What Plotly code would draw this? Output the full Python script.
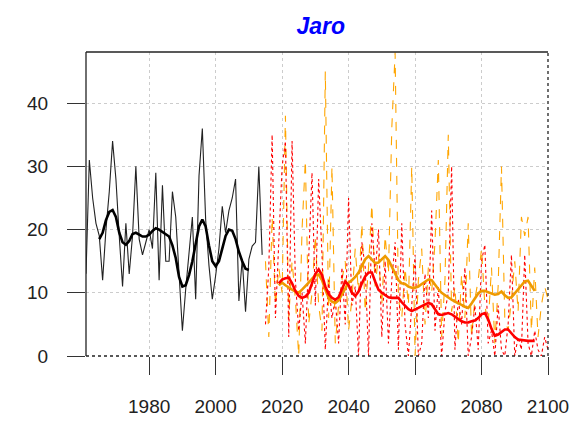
import plotly.graph_objects as go

# observed 1961-2014
obs_years = list(range(1961, 2015))
obs_values = [13, 31, 25, 21, 19, 12, 20, 26, 34, 28,
              19, 11, 21, 13, 19, 30, 18.5, 16, 18, 20,
              17, 29, 12, 27, 15, 15, 26, 22, 13, 4,
              10.6, 16.4, 22, 9, 28.5, 36, 21.6, 14.3, 9, 12.7,
              17, 23.7, 19.5, 23, 25, 28, 8.7, 15.3, 7, 15.3,
              17.4, 18, 30, 16]

obs_smooth_years = list(range(1965, 2011))
obs_smooth = [18.5, 19.5, 21.5, 22.8, 23.1, 22, 19.5, 18, 17.6, 18.2,
              19.3, 19.5, 19.2, 18.9, 18.9, 19.2, 19.8, 20.2, 20, 19.6,
              19.2, 18.9, 17.5, 15.5, 12.5, 11, 11.2, 12.8, 15, 18,
              20.5, 21.6, 20.5, 17.5, 15, 14.2, 15, 17, 19, 20,
              19.8, 18.5, 16.5, 15, 13.8, 13.6]

# scenarios 2015-2100
fut_years = list(range(2015, 2101))
red_values = [5, 14, 35, 6, 18, 30, 34, 3, 34, 12,
              4, 10, 2, 17, 29, 8, 28, 16, 1, 12,
              6, 9, 2, 14, 5, 25, 8, 11, 0, 18,
              14, 0, 21, 13, 20, 3, 15, 2, 12, 18,
              1, 21, 5, 0, 9, 16, 0, 2, 13, 6,
              23, 4, 11, 0, 7, 10, 30, 1, 9, 5,
              14, 0, 3, 8, 1, 15, 17.6, 2, 4, 0,
              8, 1, 0, 5, 16, 0, 3, 1, 16, 2,
              0, 4, 1, 0, 3, 1]
orange_values = [15, 3, 22, 8, 14, 10, 38, 6, 15, 9,
                 0, 20, 31, 5, 10, 19, 8, 4, 45, 6,
                 30, 2, 8, 12, 15, 4, 9, 17, 10, 21,
                 7, 14, 24, 11, 16, 8, 19, 13, 36, 48,
                 9, 6, 14, 8, 30, 0, 12, 17, 5, 14,
                 10, 18, 31, 3, 12, 35, 7, 11, 2, 13,
                 6, 21, 3, 9, 12, 17, 8, 5, 14, 2,
                 11, 30, 6, 4, 9, 15, 7, 22, 19, 22,
                 4, 14, 3, 8, 11, 9]

fut_smooth_years = list(range(2019, 2097))
red_smooth = [11.5, 12.1, 12.3, 12.4, 11.5, 10.3, 9.5, 9.2, 9.4, 10,
              11.5, 13, 13.7, 12.8, 11, 9.8, 9.2, 8.9, 9.3, 10.5,
              11.8, 11.2, 10, 9.5, 10.2, 11.5, 12.6, 13.2, 13.2, 11.8,
              10.5, 10, 9.6, 9.3, 9.2, 9.2, 9.2, 8.5, 7.9, 7.4,
              7.1, 7.3, 7.6, 7.9, 8.2, 8.4, 8.2, 7.4, 6.6, 6.5,
              6.6, 6.8, 6.6, 6.2, 5.8, 5.5, 5.3, 5.3, 5.5, 5.6,
              6, 6.6, 6.8, 5.8, 4.3, 3.2, 3.4, 3.8, 4.2, 4.2,
              3.6, 3, 2.6, 2.5, 2.4, 2.4, 2.4, 2.4]
orange_smooth = [11.2, 11.6, 11.2, 10.8, 10.5, 10.2, 10, 10.5, 11, 11.6,
                 12.2, 12.8, 12.9, 12, 10.5, 9.2, 8.6, 8.4, 8.8, 9.8,
                 10.8, 11.6, 12, 12.5, 13.2, 14.3, 15.3, 15.8, 15.3, 14.7,
                 14.8, 15.3, 15.8, 15.2, 14.2, 13.2, 12, 11.5, 11.4, 11,
                 10.8, 10.8, 11, 11.4, 11.8, 12.1, 12, 11.2, 10.6, 10,
                 9.6, 9.2, 8.9, 8.6, 8.4, 8.1, 7.8, 7.6, 8.3, 9.2,
                 9.9, 10.3, 10.3, 10.1, 9.9, 9.7, 9.8, 10.2, 9.6, 9.2,
                 9.3, 9.9, 10.6, 11.2, 11.8, 11.9, 11, 10.3]

x_ticks = [1980, 2000, 2020, 2040, 2060, 2080, 2100]
y_ticks = [0, 10, 20, 30, 40]

fig = go.Figure()
fig.add_trace(go.Scatter(x=obs_years, y=obs_values, mode="lines",
                         line=dict(color="#222222", width=1.1)))
fig.add_trace(go.Scatter(x=obs_smooth_years, y=obs_smooth, mode="lines",
                         line=dict(color="black", width=2.6)))
fig.add_trace(go.Scatter(x=fut_years, y=orange_values, mode="lines",
                         line=dict(color="#FFA500", width=1.1, dash="dash")))
fig.add_trace(go.Scatter(x=fut_years, y=red_values, mode="lines",
                         line=dict(color="#FF0000", width=1.1, dash="dot")))
fig.add_trace(go.Scatter(x=fut_smooth_years, y=orange_smooth, mode="lines",
                         line=dict(color="#EE9A00", width=2.6)))
fig.add_trace(go.Scatter(x=fut_smooth_years, y=red_smooth, mode="lines",
                         line=dict(color="#FF0000", width=2.6)))

# box: solid top/left, dotted bottom/right
fig.add_shape(type="line", xref="paper", yref="paper", x0=0, x1=1, y0=1, y1=1,
              line=dict(color="#222222", width=1.3))
fig.add_shape(type="line", xref="paper", yref="paper", x0=0, x1=0, y0=0, y1=1,
              line=dict(color="#222222", width=1.3))
fig.add_shape(type="line", xref="paper", yref="paper", x0=0, x1=1, y0=0, y1=0,
              line=dict(color="#222222", width=1.3, dash="dot"))
fig.add_shape(type="line", xref="paper", yref="paper", x0=1, x1=1, y0=0, y1=1,
              line=dict(color="#222222", width=1.3, dash="dot"))

# page body has an 8px margin, so the figure is shifted to compensate
fig.update_layout(
    width=583, height=422,
    margin=dict(l=78, r=43, t=44, b=74, autoexpand=False),
    plot_bgcolor="white", paper_bgcolor="white",
    showlegend=False,
    font=dict(family="Liberation Sans, Arial, sans-serif", size=19, color="#222222"),
    title=dict(text="<b><i>Jaro</i></b>", x=0.508, xref="paper", xanchor="center",
               y=0.958, yanchor="middle",
               font=dict(size=23, color="#0000FF", family="Liberation Sans, Arial, sans-serif")),
)
fig.update_xaxes(range=[1961, 2100], tickvals=x_ticks, ticks="outside", ticklen=18,
                 tickwidth=1.3, tickcolor="#333333", ticklabelstandoff=15,
                 showgrid=True, gridcolor="#CCCCCC", griddash="dot", gridwidth=1,
                 zeroline=False, showline=False, automargin=False)
fig.update_yaxes(range=[0, 48.1], tickvals=y_ticks, ticks="outside", ticklen=18,
                 tickwidth=1.3, tickcolor="#333333", ticklabelstandoff=15,
                 showgrid=True, gridcolor="#CCCCCC", griddash="dot", gridwidth=1,
                 zeroline=False, showline=False, automargin=False)

fig.write_html("out.html")
